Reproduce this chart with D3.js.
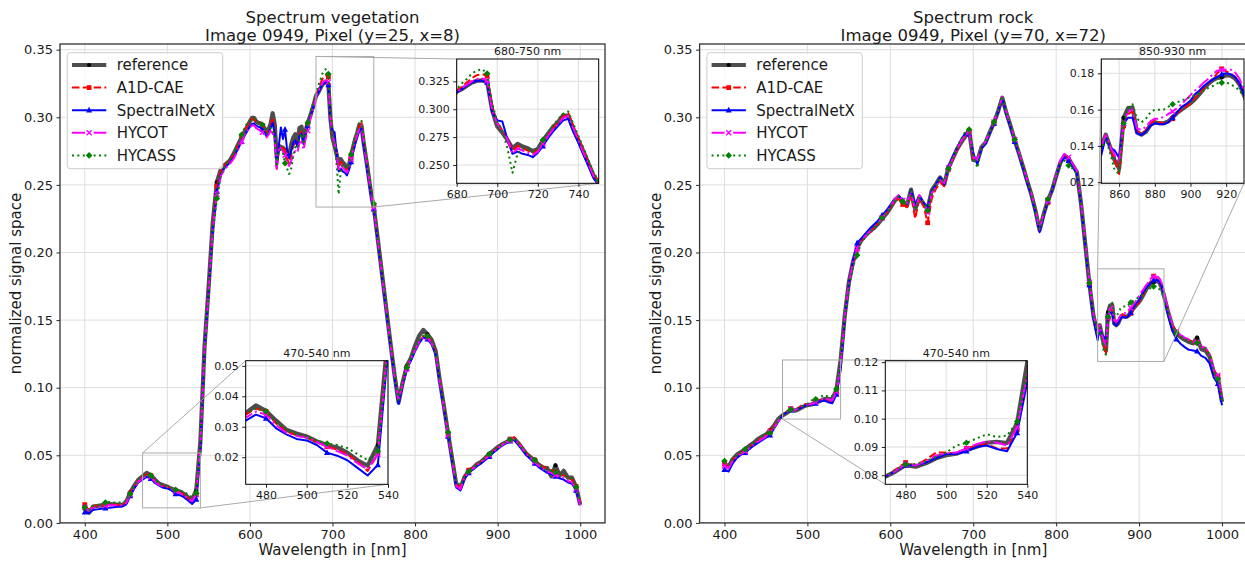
<!DOCTYPE html>
<html><head><meta charset="utf-8">
<script src="https://cdn.jsdelivr.net/npm/d3@7"></script>
<style>body{margin:0;background:#fff}svg{display:block}text{font-family:"DejaVu Sans",sans-serif}</style>
</head><body><svg id="c" width="1245" height="563"></svg>
<script>
// ---------------- DATA ----------------
const seriesNames = ["reference","A1D-CAE","SpectralNetX","HYCOT","HYCASS"];
const markerWavelengths = [400,427,454,481,508,535,562,589,616,643,670,696,723,750,790,817,840,863,890,917,943,970,997];
const mainXTicks = [400,500,600,700,800,900,1000];
const mainYTicks = [0,0.05,0.10,0.15,0.20,0.25,0.30,0.35];

const vegTitle = ["Spectrum vegetation","Image 0949, Pixel (y=25, x=8)"];
const rockTitle = ["Spectrum rock","Image 0949, Pixel (y=70, x=72)"];

const vegWavelengths = [400,405,410,415,420,425,430,435,440,445,450,455,460,465,470,475,480,485,490,495,500,505,510,515,520,525,530,535,540,545,550,555,560,565,570,575,580,585,590,595,
600,602.5,605,607.5,610,612.5,615,617.5,620,622.5,625,627.5,630,632.5,635,637.5,640,642.5,645,647.5,650,652.5,655,657.5,660,662.5,665,667.5,670,672.5,675,677.5,680,682.5,685,687.5,690,692.5,695,697.5,700,702.5,705,707.5,710,712.5,715,717.5,720,722.5,725,727.5,730,732.5,735,737.5,740,742.5,745,747.5,750,
755,760,765,770,775,780,785,790,795,800,805,810,815,820,825,830,835,840,845,850,855,860,865,870,875,880,885,890,895,900,905,910,915,920,925,930,935,940,945,950,955,960,965,970,975,980,985,990,995,1000];

const vegReference = [.0105,.0075,.012,.0125,.013,.0135,.014,.0138,.0135,.0132,
.015,.0225,.0275,.032,.0345,.037,.0352,.032,.029,.0278,
.0268,.0252,.024,.0232,.0215,.019,.0172,.024,.06,.13,
.175,.222,.252,.262,.265,.2675,.2725,.279,.285,.291,
.297,.2995,.2995,.297,.296,.2955,.2945,.292,.2895,.291,
.295,.303,.295,.27,.279,.278,.2775,.2755,.27,.272,
.28,.285,.2875,.281,.292,.293,.283,.29,.296,.300,
.305,.310,.3157,.318,.321,.324,.3255,.3258,.3245,.299,
.2845,.279,.2725,.265,.269,.2665,.265,.2625,.2645,.272,
.278,.284,.2885,.2945,.294,.282,.272,.262,.251,.2405,
.2335,
.209,.184,.159,.134,.110,.089,.104,.116,.122,.131,
.1385,.1427,.1395,.1355,.127,.105,.086,.066,.047,.028,
.026,.034,.0385,.0405,.0435,.0452,.048,.051,.0535,.056,
.058,.0595,.0612,.0622,.059,.055,.051,.0485,.0455,.043,
.041,.0405,.0345,.0425,.035,.0385,.0335,.0335,.0265,.0135];

const vegA1DCAE = [.0135,.0095,.0125,.0128,.013,.0133,.0138,.0137,.0133,.0133,
.015,.022,.027,.0315,.034,.036,.035,.031,.0285,.0272,
.0265,.025,.0235,.0225,.021,.0185,.0155,.021,.058,.128,
.174,.219,.249,.261,.265,.268,.272,.279,.286,.292,
.297,.299,.2985,.297,.2965,.2955,.294,.291,.288,.29,
.294,.300,.289,.262,.278,.279,.277,.275,.269,.266,
.272,.279,.281,.279,.288,.289,.281,.288,.295,.300,
.305,.311,.317,.320,.324,.328,.3305,.3315,.330,.302,
.288,.281,.274,.263,.267,.265,.263,.261,.263,.270,
.277,.283,.288,.2935,.2965,.285,.274,.263,.252,.2415,
.2345,
.209,.184,.159,.134,.110,.090,.104,.115,.121,.128,
.134,.138,.138,.134,.126,.105,.086,.066,.047,.028,
.027,.035,.039,.041,.0435,.0455,.048,.0505,.053,.0555,
.058,.0598,.062,.0635,.060,.0555,.0515,.049,.0465,.0435,
.0415,.040,.039,.0375,.036,.035,.034,.032,.027,.015];

const vegSpectralNetX = [.008,.0072,.0095,.010,.0105,.011,.0112,.0115,.012,.012,
.0135,.020,.0255,.030,.032,.034,.0328,.0295,.0275,.026,
.0255,.024,.0215,.0205,.019,.0165,.014,.0175,.055,.127,
.172,.216,.245,.258,.263,.266,.270,.276,.282,.288,
.293,.295,.2955,.294,.293,.2925,.291,.289,.286,.288,
.292,.296,.288,.263,.279,.2925,.284,.291,.276,.270,
.275,.281,.283,.278,.286,.288,.280,.288,.294,.299,
.304,.309,.315,.318,.321,.324,.3255,.3255,.324,.297,
.290,.289,.273,.260,.262,.260,.259,.257,.261,.267,
.274,.280,.285,.290,.2915,.280,.270,.259,.249,.238,
.232,
.207,.182,.157,.132,.108,.088,.102,.114,.120,.127,
.133,.137,.136,.132,.124,.103,.084,.064,.045,.026,
.024,.033,.037,.0395,.042,.044,.0465,.049,.052,.0545,
.057,.059,.0605,.0615,.058,.054,.050,.047,.044,.041,
.039,.037,.036,.0345,.033,.032,.030,.029,.024,.013];

const vegHYCOT = [.0115,.009,.0115,.012,.0125,.0128,.013,.013,.013,.013,
.0145,.021,.026,.0305,.033,.035,.034,.0305,.028,.027,
.0265,.025,.0235,.022,.0205,.018,.016,.021,.057,.127,
.172,.217,.243,.257,.262,.265,.269,.275,.282,.289,
.292,.294,.294,.292,.291,.2905,.289,.287,.285,.287,
.290,.288,.284,.262,.276,.277,.275,.272,.266,.264,
.268,.272,.275,.274,.281,.282,.276,.284,.290,.297,
.303,.309,.315,.319,.322,.325,.327,.3275,.326,.299,
.287,.281,.273,.260,.265,.263,.261,.259,.262,.269,
.276,.282,.287,.292,.294,.283,.272,.261,.251,.240,
.233,
.208,.183,.158,.133,.109,.090,.103,.114,.121,.128,
.134,.137,.137,.133,.125,.104,.085,.065,.046,.027,
.025,.034,.038,.040,.043,.045,.0475,.050,.053,.055,
.0575,.0595,.061,.062,.059,.055,.051,.048,.045,.042,
.040,.038,.037,.0355,.0345,.0335,.031,.030,.025,.013];

const vegHYCASS = [.0115,.009,.0125,.013,.014,.015,.0155,.015,.015,.015,
.0165,.0215,.027,.032,.0345,.036,.035,.0315,.029,.0275,
.0268,.0255,.0245,.024,.023,.021,.019,.022,.056,.124,
.170,.213,.240,.258,.264,.268,.273,.2795,.287,.294,
.298,.2995,.299,.297,.2955,.295,.2945,.292,.288,.289,
.292,.291,.285,.265,.275,.276,.274,.266,.262,.258,
.262,.272,.278,.277,.285,.288,.280,.290,.2958,.301,
.307,.313,.318,.323,.327,.332,.3345,.336,.332,.305,
.289,.281,.265,.243,.260,.265,.264,.262,.265,.2725,
.279,.2855,.291,.296,.298,.287,.276,.265,.254,.243,
.236,
.210,.185,.160,.135,.111,.091,.104,.115,.122,.129,
.135,.1385,.138,.1345,.126,.106,.087,.067,.048,.030,
.028,.035,.038,.0405,.043,.0455,.048,.051,.053,.0555,
.058,.060,.0615,.062,.059,.055,.0515,.049,.0465,.0435,
.041,.039,.0385,.0375,.036,.035,.034,.033,.0265,.015];

const rockWavelengths = [400,405,410,415,420,425,430,435,440,445,450,455,460,465,470,475,480,485,490,495,500,505,510,515,520,525,530,535,540,545,550,555,560,565,570,575,580,585,590,595,600,605,610,615,620,625,630,635,640,645,650,655,660,665,670,675,680,685,690,695,700,705,710,715,720,725,730,735,740,745,750,755,760,765,770,775,780,785,790,795,800,805,810,815,820,825,830,835,840,845,
850,852.5,855,857.5,860,862.5,865,867.5,870,872.5,875,877.5,880,882.5,885,887.5,890,892.5,895,897.5,900,902.5,905,907.5,910,912.5,915,917.5,920,922.5,925,927.5,930,
935,940,945,950,955,960,965,970,975,980,985,990,995,1000];

const rockReference = [.0441,.0415,.0472,.0505,.0525,.0545,.057,.059,.0618,.0638,
.0653,.0685,.0722,.077,.0795,.0813,.0836,.083,.0842,.086,
.0871,.0876,.0889,.0901,.0915,.0918,.0914,.0985,.12,.153,
.178,.193,.2035,.209,.2125,.2155,.218,.221,.225,.2285,
.233,.238,.241,.237,.2345,.2465,.232,.241,.236,.232,
.246,.2505,.2555,.2505,.2625,.269,.2758,.281,.2855,.2905,
.2685,.268,.278,.2815,.289,.296,.3045,.3145,.303,.2935,
.283,.2735,.2635,.253,.243,.231,.2165,.2285,.2385,.246,
.2565,.2665,.2715,.2695,.2645,.2595,.236,.2065,.177,.153,
.1395,.1462,.1393,.132,.1275,.1555,.1608,.1612,.1475,.1462,
.1478,.1515,.153,.1525,.1525,.1535,.1558,.1582,.160,.1618,
.1635,.1658,.1685,.1717,.1742,.1762,.1775,.1778,.179,.1787,
.1772,.1738,.168,
.156,.1455,.140,.1375,.1355,.1338,.1328,.137,.1285,.1275,.123,.1115,.1075,.0895];

const rockA1DCAE = [.0435,.041,.047,.050,.0515,.0535,.056,.0585,.061,.063,
.065,.068,.0715,.0765,.0795,.082,.0845,.0835,.0855,.088,
.088,.0875,.0895,.0905,.091,.0895,.0895,.096,.115,.152,
.177,.192,.2025,.2085,.212,.215,.218,.2215,.2255,.229,
.2335,.2375,.240,.2355,.2335,.2425,.225,.240,.2345,.222,
.240,.247,.252,.249,.2615,.2685,.2755,.2815,.2865,.2885,
.270,.268,.277,.281,.2885,.2955,.304,.3145,.303,.2935,
.283,.2735,.2635,.253,.243,.231,.2165,.228,.237,.2455,
.256,.2665,.2715,.268,.2645,.259,.236,.2065,.177,.153,
.1395,.146,.1395,.132,.1245,.151,.1575,.159,.148,.147,
.1485,.152,.1545,.153,.1525,.153,.155,.158,.160,.1615,
.1635,.1665,.169,.172,.1745,.177,.180,.1825,.181,.180,
.178,.174,.170,
.157,.1465,.141,.1385,.137,.1355,.1335,.1335,.130,.1295,.1245,.113,.1085,.0915];

const rockSpectralNetX = [.0395,.038,.044,.048,.0505,.052,.0545,.057,.059,.061,
.063,.065,.070,.075,.0795,.0815,.0835,.0835,.0845,.086,
.0875,.0875,.0885,.090,.0905,.0893,.0885,.095,.113,.151,
.177,.194,.207,.2105,.214,.2175,.2205,.2235,.2275,.231,
.235,.2395,.242,.2385,.236,.246,.2355,.242,.237,.233,
.245,.250,.2555,.2505,.263,.2705,.277,.283,.288,.2875,
.2735,.265,.277,.2805,.2885,.2955,.304,.3145,.302,.2925,
.282,.2725,.2625,.252,.242,.230,.215,.2275,.238,.2455,
.256,.2665,.2705,.268,.2635,.2585,.235,.2055,.176,.151,
.135,.145,.139,.1375,.1335,.1525,.1555,.1555,.147,.146,
.148,.151,.1525,.152,.152,.153,.1555,.1585,.1615,.163,
.165,.1685,.1705,.173,.175,.1765,.178,.1795,.180,.1795,
.178,.1745,.168,
.153,.142,.136,.1325,.130,.128,.1275,.127,.1235,.122,.118,.1075,.103,.087];

const rockHYCOT = [.042,.0405,.046,.049,.051,.053,.0555,.058,.060,.062,
.064,.067,.0705,.0755,.0795,.0815,.084,.0835,.085,.087,
.0878,.088,.0895,.091,.092,.0915,.0905,.097,.116,.152,
.1775,.1925,.203,.2085,.212,.2155,.2185,.2215,.2255,.2295,
.234,.239,.2425,.2385,.2365,.2455,.2305,.2425,.2375,.2295,
.244,.2485,.2535,.2515,.2625,.269,.2765,.282,.2865,.289,
.2705,.2685,.2785,.282,.2895,.2965,.305,.315,.3035,.294,
.2835,.274,.264,.2535,.2435,.2315,.217,.229,.2385,.2465,
.257,.268,.273,.2705,.2655,.2605,.237,.2075,.178,.154,
.1395,.146,.1395,.135,.131,.1525,.159,.160,.1495,.149,
.1505,.1535,.155,.155,.156,.1575,.159,.161,.163,.1655,
.168,.1705,.1725,.175,.177,.1795,.1815,.182,.182,.182,
.1805,.177,.171,
.1575,.147,.1415,.139,.137,.1355,.134,.1335,.1305,.1295,.125,.1135,.109,.092];

const rockHYCASS = [.0458,.043,.048,.050,.052,.0545,.0565,.059,.0615,.064,
.066,.0665,.071,.0765,.0795,.082,.0838,.084,.085,.0865,
.088,.0905,.0915,.093,.0945,.0935,.094,.099,.118,.150,
.174,.1895,.198,.2075,.2115,.215,.218,.2215,.2255,.2295,
.2335,.2385,.2415,.2375,.2355,.2455,.231,.2405,.237,.231,
.244,.2495,.2545,.2525,.262,.2695,.2775,.2835,.289,.291,
.2725,.2625,.2775,.282,.2895,.2965,.3055,.3155,.3035,.294,
.2835,.274,.264,.2535,.2435,.2315,.217,.229,.2396,.2465,
.2565,.2655,.268,.2643,.262,.258,.236,.207,.1775,.1535,
.1385,.144,.136,.1265,.1245,.1525,.161,.163,.155,.153,
.155,.1585,.160,.160,.160,.1615,.163,.164,.165,.166,
.167,.168,.169,.1705,.172,.173,.1745,.1748,.175,.174,
.1725,.1705,.167,
.155,.1455,.1405,.138,.136,.1345,.1335,.133,.130,.129,.1245,.1125,.1064,.0905];

// inset definitions (ranges and ticks)
const vegInsetA = {title:"680-750 nm", xDomain:[680,750], yDomain:[0.2336,0.345], xTicks:[680,700,720,740], yTicks:[0.250,0.275,0.300,0.325], fmt:".3f"};
const vegInsetB = {title:"470-540 nm", xDomain:[470,540], yDomain:[0.0111,0.0517], xTicks:[480,500,520,540], yTicks:[0.02,0.03,0.04,0.05], fmt:".2f"};
const rockInsetA = {title:"850-930 nm", xDomain:[850,930], yDomain:[0.1194,0.1879], xTicks:[860,880,900,920], yTicks:[0.12,0.14,0.16,0.18], fmt:".2f"};
const rockInsetB = {title:"470-540 nm", xDomain:[470,540], yDomain:[0.0768,0.1205], xTicks:[480,500,520,540], yTicks:[0.08,0.09,0.10,0.11,0.12], fmt:".2f"};

// ---------------- STYLE ----------------
const styles = [
  {color:"#4d4d4d", width:4.2, dash:null, marker:"o", fill:"#000", ms:2.1},
  {color:"#ff0000", width:2, dash:"7.5,3.3", marker:"s", fill:"#ff0000", ms:2.4},
  {color:"#0000ff", width:2, dash:null, marker:"^", fill:"#0000ff", ms:3},
  {color:"#ff00ff", width:2, dash:"13,3.3,2,3.3", marker:"x", fill:"none", ms:2.5},
  {color:"#008000", width:2, dash:"2,3.4", marker:"D", fill:"#008000", ms:3.3}
];

const svg = d3.select("#c");
const defs = svg.append("defs");
let clipCount = 0;

function drawMarker(g, cx, cy, st) {
  const m = st.ms;
  if (st.marker === "o") g.append("circle").attr("cx",cx).attr("cy",cy).attr("r",m).attr("fill",st.fill);
  else if (st.marker === "s") g.append("rect").attr("x",cx-m).attr("y",cy-m).attr("width",2*m).attr("height",2*m).attr("fill",st.fill);
  else if (st.marker === "^") g.append("path").attr("d",`M${cx},${cy-m*1.15}L${cx+m},${cy+m*0.8}L${cx-m},${cy+m*0.8}Z`).attr("fill",st.fill);
  else if (st.marker === "x") g.append("path").attr("d",`M${cx-m},${cy-m}L${cx+m},${cy+m}M${cx-m},${cy+m}L${cx+m},${cy-m}`).attr("stroke",st.color).attr("stroke-width",1.4).attr("fill","none");
  else if (st.marker === "D") g.append("path").attr("d",`M${cx},${cy-m}L${cx+m},${cy}L${cx},${cy+m}L${cx-m},${cy}Z`).attr("fill",st.fill);
}

function nearestIdx(wl, targets) {
  return targets.map(t => { let bi=0, bd=1e9; wl.forEach((w,i)=>{const d=Math.abs(w-t); if(d<bd){bd=d;bi=i;}}); return bi; });
}

function drawAxes(P) {
  const x = d3.scaleLinear().domain(P.xDomain).range([P.left, P.right]);
  const y = d3.scaleLinear().domain(P.yDomain).range([P.bottom, P.top]);
  const g = svg.append("g");
  if (P.inset) g.append("rect").attr("x",P.left).attr("y",P.top).attr("width",P.right-P.left).attr("height",P.bottom-P.top).attr("fill","#fff");
  const grid = g.append("g").attr("stroke","#dedede").attr("stroke-width",1);
  P.xTicks.forEach(t => grid.append("line").attr("x1",x(t)).attr("x2",x(t)).attr("y1",P.top).attr("y2",P.bottom));
  P.yTicks.forEach(t => grid.append("line").attr("y1",y(t)).attr("y2",y(t)).attr("x1",P.left).attr("x2",P.right));
  const cid = "clip"+(clipCount++);
  defs.append("clipPath").attr("id",cid).append("rect").attr("x",P.left).attr("y",P.top).attr("width",P.right-P.left).attr("height",P.bottom-P.top);
  const plot = g.append("g").attr("clip-path",`url(#${cid})`);
  const mIdx = nearestIdx(P.wl, markerWavelengths);
  P.series.forEach((vals,i) => {
    const st = styles[i];
    const n = Math.min(vals.length, P.wl.length);
    const pts = d3.range(n).map(j => [P.wl[j], vals[j]]);
    plot.append("path").attr("d", d3.line().x(d=>x(d[0])).y(d=>y(d[1]))(pts))
      .attr("fill","none").attr("stroke",st.color).attr("stroke-width",st.width)
      .attr("stroke-dasharray",st.dash).attr("stroke-linejoin","round");
    mIdx.forEach(j => { if (j < n) drawMarker(plot, x(P.wl[j]), y(vals[j]), st); });
  });
  const tl = P.inset ? 3.5 : 3.5;
  const fs = P.inset ? 11 : 13;
  const ax = g.append("g").attr("transform",`translate(0,${P.bottom})`)
    .call(d3.axisBottom(x).tickValues(P.xTicks).tickSize(tl).tickPadding(3.5).tickFormat(d3.format("d")));
  const ay = g.append("g").attr("transform",`translate(${P.left},0)`)
    .call(d3.axisLeft(y).tickValues(P.yTicks).tickSize(tl).tickPadding(3.5).tickFormat(d3.format(P.fmt)));
  [ax,ay].forEach(a => {
    a.select(".domain").remove();
    a.selectAll("line").attr("stroke","#222");
    a.selectAll("text").attr("font-size",fs).attr("fill","#1a1a1a").attr("font-family","DejaVu Sans, sans-serif");
  });
  g.append("rect").attr("x",P.left).attr("y",P.top).attr("width",P.right-P.left).attr("height",P.bottom-P.top)
    .attr("fill","none").attr("stroke",P.inset ? "#000" : "#333").attr("stroke-width",P.inset ? 1 : 1.3);
  if (P.inset) g.append("text").attr("x",(P.left+P.right)/2).attr("y",P.top-4).attr("text-anchor","middle").attr("font-size",11).attr("fill","#1a1a1a").text(P.title);
  return {x,y,g};
}

function drawPanel(cfg) {
  const main = drawAxes({left:cfg.left,right:cfg.right,top:44,bottom:522.9,xDomain:[370,1030],yDomain:[0,0.3542],
    xTicks:mainXTicks,yTicks:mainYTicks,fmt:".2f",wl:cfg.wl,series:cfg.series,inset:false});
  // titles and labels
  const cx = (cfg.left+cfg.right)/2;
  svg.append("text").attr("x",cx).attr("y",22.7).attr("text-anchor","middle").attr("font-size",16.5).attr("fill","#1a1a1a").text(cfg.title[0]);
  svg.append("text").attr("x",cx).attr("y",40.7).attr("text-anchor","middle").attr("font-size",16.5).attr("fill","#1a1a1a").text(cfg.title[1]);
  svg.append("text").attr("x",cx).attr("y",555).attr("text-anchor","middle").attr("font-size",15).attr("fill","#1a1a1a").text("Wavelength in [nm]");
  svg.append("text").attr("transform",`translate(${cfg.left-39},283.5) rotate(-90)`).attr("text-anchor","middle").attr("font-size",15).attr("fill","#1a1a1a").text("normalized signal space");
  // legend
  const lg = svg.append("g").attr("transform",`translate(${cfg.left+7.3},52.7)`);
  lg.append("rect").attr("width",155.4).attr("height",116).attr("rx",3).attr("fill","#fff").attr("fill-opacity",0.8).attr("stroke","#cccccc");
  seriesNames.forEach((name,i) => {
    const st = styles[i];
    const ry = 12.3 + i*22.6;
    lg.append("line").attr("x1",4.7).attr("x2",39).attr("y1",ry).attr("y2",ry).attr("stroke",st.color).attr("stroke-width",st.width).attr("stroke-dasharray",st.dash);
    drawMarker(lg, 21.8, ry, st);
    lg.append("text").attr("x",49.4).attr("y",ry+5.4).attr("font-size",15).attr("fill","#1a1a1a").text(name);
  });
  // insets
  cfg.insets.forEach(ins => {
    const x0 = main.x(ins.def.xDomain[0]), x1 = main.x(ins.def.xDomain[1]);
    const y0 = main.y(ins.def.yDomain[1]), y1 = main.y(ins.def.yDomain[0]);
    const rc = {1:[x1,y0],2:[x0,y0],3:[x0,y1],4:[x1,y1]};
    const ic = {1:[ins.right,ins.top],2:[ins.left,ins.top],3:[ins.left,ins.bottom],4:[ins.right,ins.bottom]};
    svg.append("rect").attr("x",x0).attr("y",y0).attr("width",x1-x0).attr("height",y1-y0).attr("fill","none").attr("stroke","#aaaaaa").attr("stroke-width",1);
    ins.locs.forEach(l => svg.append("line").attr("x1",rc[l][0]).attr("y1",rc[l][1]).attr("x2",ic[l][0]).attr("y2",ic[l][1]).attr("stroke","#aaaaaa").attr("stroke-width",1));
    drawAxes(Object.assign({}, ins.def, {left:ins.left,right:ins.right,top:ins.top,bottom:ins.bottom,wl:cfg.wl,series:cfg.series,inset:true}));
  });
}

drawPanel({left:60,right:605,wl:vegWavelengths,title:vegTitle,
  series:[vegReference,vegA1DCAE,vegSpectralNetX,vegHYCOT,vegHYCASS],
  insets:[{def:vegInsetA,left:456.7,right:598.7,top:59,bottom:183.3,locs:[2,4]},
          {def:vegInsetB,left:245.7,right:388,top:360.7,bottom:484.3,locs:[2,4]}]});
drawPanel({left:699.6,right:1246.9,wl:rockWavelengths,title:rockTitle,
  series:[rockReference,rockA1DCAE,rockSpectralNetX,rockHYCOT,rockHYCASS],
  insets:[{def:rockInsetA,left:1101.3,right:1244,top:59,bottom:183.3,locs:[2,4]},
          {def:rockInsetB,left:885.3,right:1027.3,top:360.7,bottom:484.3,locs:[1,3]}]});
</script></body></html>
